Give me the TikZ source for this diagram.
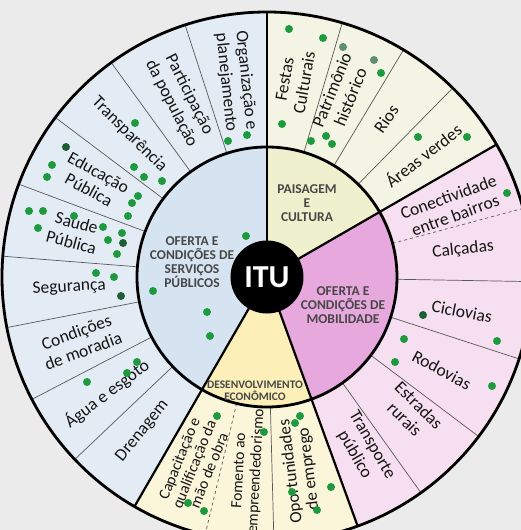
\documentclass[tikz,border=0pt]{standalone}
\usepackage{fontspec}
\setmainfont{Carlito}
\definecolor{fundo}{HTML}{EBEBEB}
\definecolor{tinta}{HTML}{151515}
\definecolor{servExt}{HTML}{E3ECF5}
\definecolor{servInt}{HTML}{D6E4F2}
\definecolor{paisExt}{HTML}{F3F4E3}
\definecolor{paisInt}{HTML}{EEF0CE}
\definecolor{mobExt}{HTML}{F6DFF0}
\definecolor{mobInt}{HTML}{E6A8DD}
\definecolor{desExt}{HTML}{FBF5DA}
\definecolor{desInt}{HTML}{FCF0B8}
\definecolor{verde}{HTML}{1E9A3E}
\definecolor{verdeEsc}{HTML}{1F5E35}
\definecolor{verdeCinza}{HTML}{5E8F6C}
\begin{document}
\begin{tikzpicture}[x=1pt,y=1pt,
  area/.style={font=\fontsize{17.5}{20}\selectfont,align=center,text=tinta},
  eixo/.style={font=\bfseries\fontsize{13.5}{14}\selectfont,align=center,text=black!72},
  divisa/.style={draw=black!65,line width=0.7pt},
  limite/.style={draw=black,line width=2.2pt},
  aro/.style={draw=black,line width=2.8pt},
  voto/.style={circle,fill=verde,inner sep=0pt,minimum size=8pt}]

  \useasboundingbox (-267,-253) rectangle (254,277);
  \fill[fundo] (-267,-253) rectangle (254,277);
  \clip (-267,-253) rectangle (254,277);

  % anel externo
  \fill[servExt] (0,0) -- (90:265) arc[start angle=90,end angle=240,radius=265] -- cycle;
  \fill[desExt] (0,0) -- (240:265) arc[start angle=240,end angle=290,radius=265] -- cycle;
  \fill[mobExt] (0,0) -- (290:265) arc[start angle=290,end angle=390,radius=265] -- cycle;
  \fill[paisExt] (0,0) -- (30:265) arc[start angle=30,end angle=90,radius=265] -- cycle;

  % eixos internos
  \fill[servInt] (0,0) -- (90:130) arc[start angle=90,end angle=240,radius=130] -- cycle;
  \fill[desInt] (0,0) -- (240:130) arc[start angle=240,end angle=290,radius=130] -- cycle;
  \fill[mobInt] (0,0) -- (290:130) arc[start angle=290,end angle=390,radius=130] -- cycle;
  \fill[paisInt] (0,0) -- (30:130) arc[start angle=30,end angle=90,radius=130] -- cycle;

  \foreach \a in {108,126,143,159.5,175.5,191,207.5,223.5,271.5,305.5,323,342,359,45.5,59,73.5}
    \draw[divisa] (\a:130) -- (\a:265);
  \foreach \a in {256.5,15}
    \draw[divisa,dashed] (\a:130) -- (\a:265);
  \foreach \a in {30,90,240,290}
    \draw[limite] (\a:30) -- (\a:265);

  \draw[aro] (0,0) circle[radius=130];
  \draw[aro] (0,0) circle[radius=265];

  \node[circle,fill=black,minimum size=73pt,inner sep=0pt,text=white,
        font=\bfseries\fontsize{32}{32}\selectfont] (itu) at (0,0) {ITU};

  \node[eixo] (servicos) at (-75,15) {OFERTA E\\CONDIÇÕES DE\\SERVIÇOS\\PÚBLICOS};
  \node[eixo] (paisagem) at (40,74) {PAISAGEM\\E\\CULTURA};
  \node[eixo] (mobilidade) at (76,-28) {OFERTA E\\CONDIÇÕES DE\\MOBILIDADE};
  \node[eixo,font=\bfseries\fontsize{11.5}{12.5}\selectfont] (desenvolvimento) at (-12,-114) {DESENVOLVIMENTO\\ECONÔMICO};

  % temas
  \foreach \a/\r/\t [count=\i] in {
    99/-84/{Organização e\\planejamento},
    116/-63/{Participação\\da população},
    134/-45/{Transparência},
    151/-29/{Educação\\Pública},
    167/-15/{Saude\\Pública},
    183/3/{Segurança},
    199/20/{Condições\\de moradia},
    216/37/{Água e esgoto},
    231/51/{Drenagem},
    299/-60/{Transporte\\público},
    317/-45/{Estradas\\rurais},
    332/-28/{Rodovias},
    350/-11/{Ciclovias},
    8/6/{Calçadas},
    21/20/{Conectividade\\entre bairros},
    38/38/{Áreas verdes},
    53/55/{Rios},
    68/68/{Patrimônio\\histórico},
    82/80/{Festas\\Culturais}}
    \node[area,rotate=\r] (tema\i) at (\a:198) {\t};
  \node[area,rotate=68,font=\fontsize{15.5}{16}\selectfont] (capacitacao) at (248.7:201)
    {Capacitação e\\qualificação da\\mão de obra};
  \node[area,rotate=87,font=\fontsize{15.5}{17}\selectfont] (fomento) at (264.4:195)
    {Fomento ao\\empreendedorismo};
  \node[area,rotate=97,font=\fontsize{17}{18}\selectfont] (oportunidades) at (279.7:196)
    {Oportunidades\\de emprego};

  % votos
  \foreach \x/\y [count=\i] in {-20/142,-39/136,-132/154,-215/112,-220/100,-133/110,-123/100,
      -105/96,-129/81,-135/74,-139/61,-238/66,-224/66,-193/61,-229/49,-164/50,-145/44,-159/37,
      -150/23,-21/41,22/248,56/239,114/204,15/153,44/136,59/141,65/133,151/140,200/140,240/84,
      -171/4,-153/0,-114/-14,-60/-35,-57/-59,-130/-85,-140/-96,-180/-105,-50/-139,-3/-155,
      -79/-226,-63/-234,137/-62,230/-64,128/-85,225/-109,33/-139,28/-146,64/-210,25/-215,50/-233}
    \node[voto] (voto\i) at (\x,\y) {};
  \foreach \x/\y [count=\i] in {-201/130,-144/34,-146/-19,156/-38}
    \node[voto,fill=verdeEsc] (votoEsc\i) at (\x,\y) {};
  \foreach \x/\y [count=\i] in {76/230,107/217}
    \node[voto,fill=verdeCinza] (votoCinza\i) at (\x,\y) {};
\end{tikzpicture}
\end{document}
